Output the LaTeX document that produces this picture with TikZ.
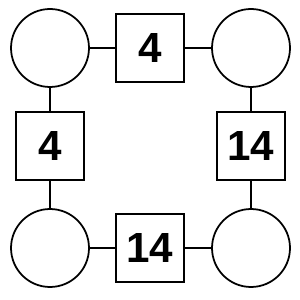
\documentclass[tikz,border=0pt]{standalone}
\usepackage{fontspec}
\setmainfont{Liberation Sans}
\usetikzlibrary{positioning}

\begin{document}
\begin{tikzpicture}[
  x=0.02cm, y=-0.02cm,
  font=\bfseries\fontsize{24}{24}\selectfont,
  spot/.style={circle, draw=black, line width=1pt, minimum size=1.56cm, inner sep=0pt, fill=white},
  val/.style={rectangle, draw=black, line width=1pt, minimum size=1.36cm, inner sep=0pt, fill=white, align=center},
  link/.style={draw=black, line width=1pt}
]
\useasboundingbox (0,0) rectangle (300,300);
\node[spot] (tl) at ( 50, 48) {};
\node[spot] (tr) at (251, 48) {};
\node[spot] (bl) at ( 50,248) {};
\node[spot] (br) at (251,248) {};

\node[val] (top)   at (150, 48) {4};
\node[val] (left)  at ( 50,146) {4};
\node[val] (right) at (251,146) {14};
\node[val] (bot)   at (150,248) {14};

\draw[link] (tl) -- (top);
\draw[link] (top) -- (tr);
\draw[link] (tl) -- (left);
\draw[link] (left) -- (bl);
\draw[link] (tr) -- (right);
\draw[link] (right) -- (br);
\draw[link] (bl) -- (bot);
\draw[link] (bot) -- (br);
\end{tikzpicture}
\end{document}
